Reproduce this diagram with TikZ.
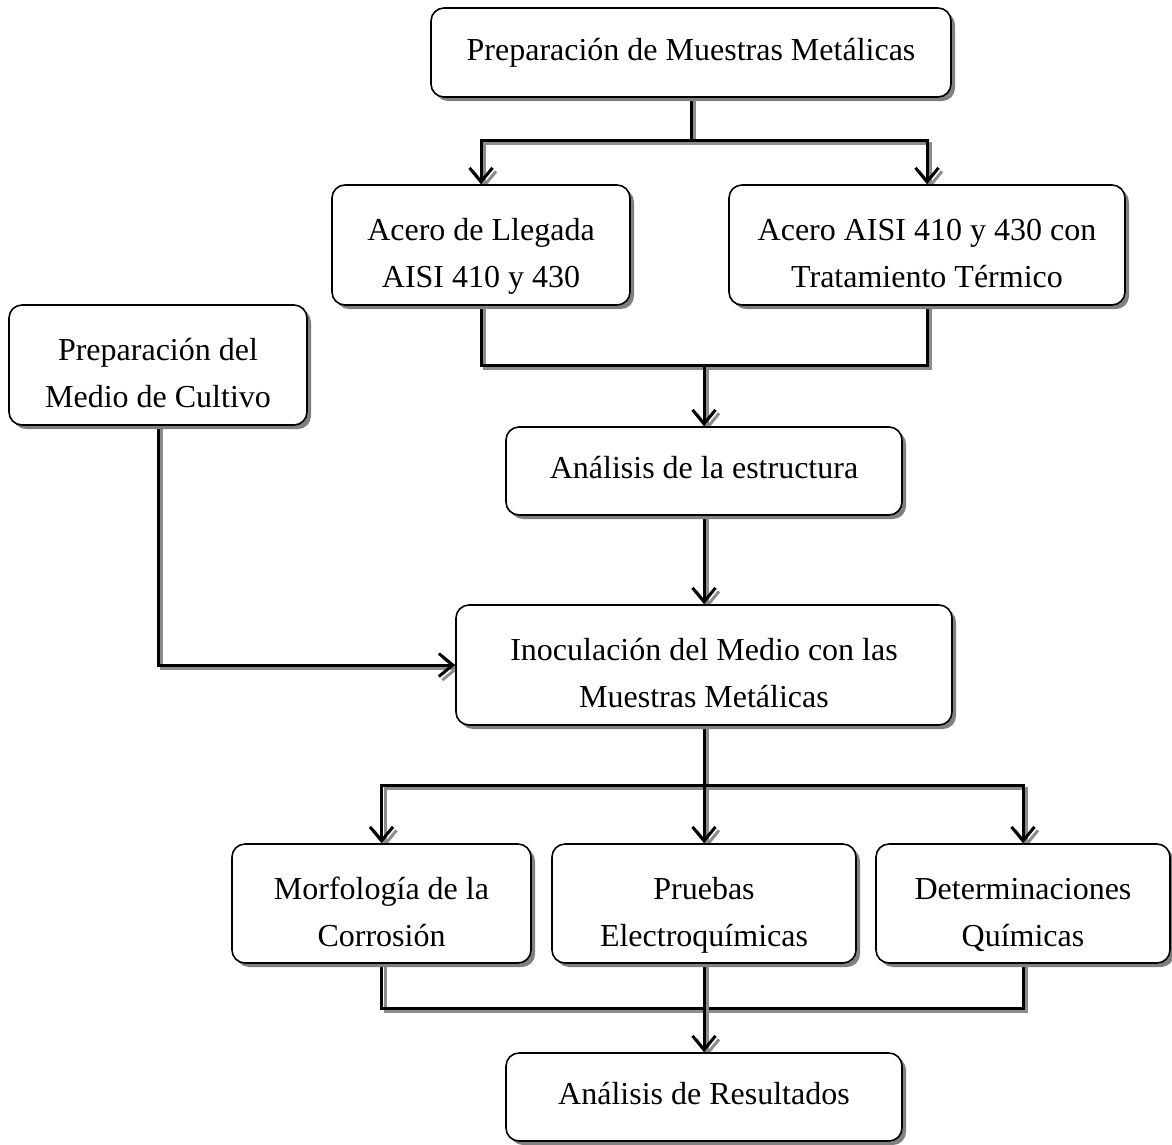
\documentclass[tikz,border=0pt]{standalone}
\usepackage{fontspec}
\setmainfont{Liberation Serif}
\usetikzlibrary{arrows.meta,shadows,backgrounds}
\tikzset{
  box/.style={draw=black, line width=1.6pt, rounded corners=13pt, fill=white,
    align=center, inner sep=0pt, font=\fontsize{32}{47}\selectfont,
    text height=22pt, text depth=7pt,
    drop shadow={shadow xshift=4pt, shadow yshift=-4pt, fill=black!50, opacity=1}},
  twoline/.style={text height=92pt, text depth=7pt},
  conshadow/.style={draw=black!45, line width=3pt,
    transform canvas={shift={(3.5pt,-3.5pt)}}},
  conmain/.style={draw=black, line width=3pt},
  arr/.style={-{Straight Barb[length=14pt,width=23pt]}}
}
\newcommand\shconn[2][]{%
  \draw[conshadow,#1] #2;
  \draw[conmain,#1] #2;}
\begin{document}
\begin{tikzpicture}[x=1pt,y=-1pt]
\useasboundingbox (0,0) rectangle (1172,1144);

\node[box, minimum width=520pt, minimum height=89pt] (top) at (691,52.5)
  {Preparación de Muestras Metálicas};
\node[box, twoline, minimum width=298pt, minimum height=120pt] (a1) at (481,245)
  {Acero de Llegada\\AISI 410 y 430};
\node[box, twoline, minimum width=396pt, minimum height=120pt] (a2) at (927,245)
  {Acero AISI 410 y 430 con\\Tratamiento Térmico};
\node[box, twoline, minimum width=298pt, minimum height=120pt] (medio) at (158,365)
  {Preparación del\\Medio de Cultivo};
\node[box, minimum width=396pt, minimum height=88pt] (estr) at (704,471)
  {Análisis de la estructura};
\node[box, twoline, minimum width=496pt, minimum height=120pt] (inoc) at (704,665)
  {Inoculación del Medio con las\\Muestras Metálicas};
\node[box, twoline, minimum width=299pt, minimum height=119pt] (morf) at (381.5,903.5)
  {Morfología de la\\Corrosión};
\node[box, twoline, minimum width=304pt, minimum height=119pt] (prue) at (704,903.5)
  {Pruebas\\Electroquímicas};
\node[box, twoline, minimum width=294pt, minimum height=119pt] (det) at (1023,903.5)
  {Determinaciones\\Químicas};
\node[box, minimum width=396pt, minimum height=88pt] (res) at (704,1097)
  {Análisis de Resultados};

\coordinate (j1) at (691,140);
\coordinate (j2) at (704,365);
\coordinate (j3) at (704,785);
\coordinate (j4) at (704,1008);

\begin{scope}[on background layer]
\shconn{(top.south) -- (j1)}
\shconn[arr]{(j1) -| (a1.north)}
\shconn[arr]{(j1) -| (a2.north)}
\shconn{(a1.south) |- (j2) -| (a2.south)}
\shconn[arr]{(j2) -- (estr.north)}
\shconn[arr]{(estr.south) -- (inoc.north)}
\shconn[arr]{(medio.south) |- (inoc.west)}
\shconn{(inoc.south) -- (j3)}
\shconn[arr]{(j3) -| (morf.north)}
\shconn[arr]{(j3) -- (prue.north)}
\shconn[arr]{(j3) -| (det.north)}
\shconn{(morf.south) |- (j4) -| (det.south)}
\shconn{(prue.south) -- (j4)}
\shconn[arr]{(j4) -- (res.north)}
\end{scope}
\end{tikzpicture}
\end{document}
